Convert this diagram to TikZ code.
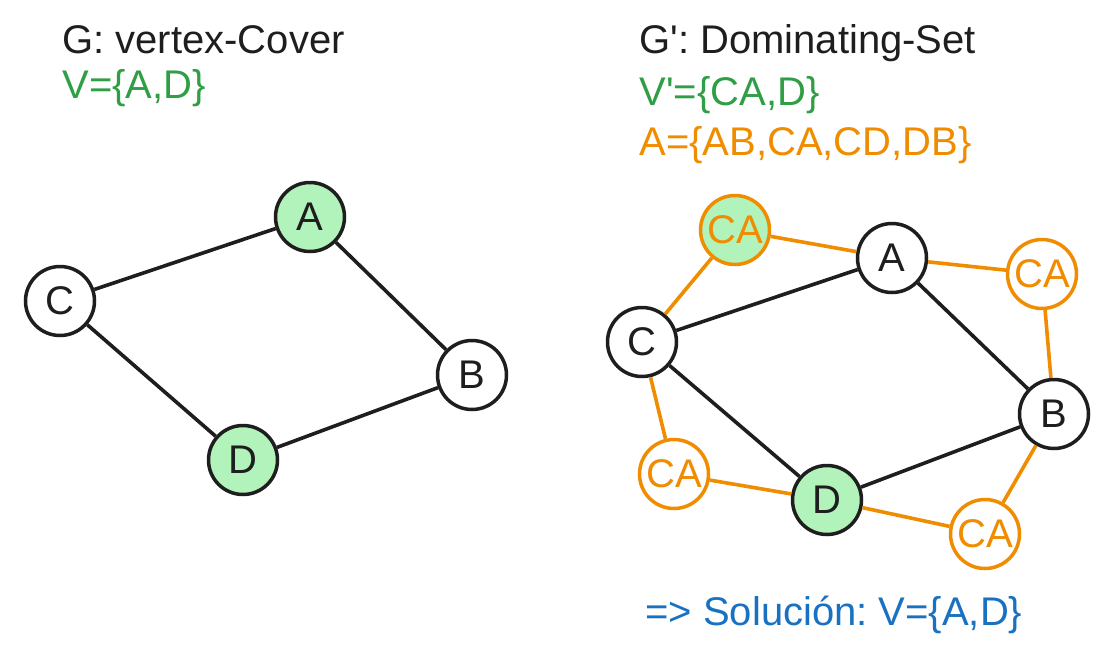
\documentclass[tikz,border=0pt]{standalone}
\usepackage{fontspec}
\setmainfont{Liberation Sans}
\frenchspacing
\definecolor{ink}{HTML}{1E1E1E}
\definecolor{selgreen}{HTML}{B2F2BB}
\definecolor{txtgreen}{HTML}{2F9E44}
\definecolor{arcorange}{HTML}{F08C00}
\definecolor{solblue}{HTML}{1971C2}
\tikzset{
  big/.style={font=\fontsize{20}{23}\selectfont},
  lbl/.style={big, anchor=base west, inner sep=0pt},
  vtx/.style={circle, draw=ink, fill=white, line width=1.75pt, minimum size=34.5pt, inner sep=0pt, big, text=ink},
  sel/.style={vtx, fill=selgreen},
  arcv/.style={vtx, draw=arcorange, text=arcorange},
  arcsel/.style={arcv, fill=selgreen},
  edge/.style={ink, line width=1.8pt},
  aedge/.style={arcorange, line width=1.8pt}
}
\begin{document}
\begin{tikzpicture}[x=0.5pt, y=-0.5pt]
\useasboundingbox (0,0) rectangle (1114,654);
% titles
\node[lbl, text=ink] (tG) at (62,53) {G: vertex-Cover};
\node[lbl, text=txtgreen] (tV) at (62,98) {V=\{A,D\}};
\node[lbl, text=ink] (tGp) at (639,53) {G\textquotesingle: Dominating-Set};
\node[lbl, text=txtgreen] (tVp) at (639,105) {V\textquotesingle=\{CA,D\}};
\node[lbl, text=arcorange] (tA) at (639,155) {A=\{AB,CA,CD,DB\}};
\node[lbl, text=solblue] (tSol) at (645,625) {=> Solución: V=\{A,D\}};
% left graph
\foreach \n/\x/\y/\s in {A/310/217/sel, C/60/301/vtx, B/472/375/vtx, D/243/460/sel}
    \node[\s] (l\n) at (\x,\y) {\n};
\foreach \a/\b in {lC/lA, lA/lB, lC/lD, lD/lB}
    \draw[edge] (\a) -- (\b);
% right graph
\foreach \n/\x/\y/\s in {A/892/258/vtx, C/642/342/vtx, B/1054/414/vtx, D/827/500/sel}
    \node[\s] (r\n) at (\x,\y) {\n};
\foreach \n/\x/\y/\s in {T/735/230/arcsel, R/1042/274/arcv, L/674/474/arcv, S/985/534/arcv}
    \node[\s] (ca\n) at (\x,\y) {CA};
\foreach \a/\b in {rC/rA, rA/rB, rC/rD, rD/rB}
    \draw[edge] (\a) -- (\b);
\foreach \a/\b in {rC/caT, caT/rA, rA/caR, caR/rB, rC/caL, caL/rD, rD/caS, caS/rB}
    \draw[aedge] (\a) -- (\b);
\end{tikzpicture}
\end{document}
